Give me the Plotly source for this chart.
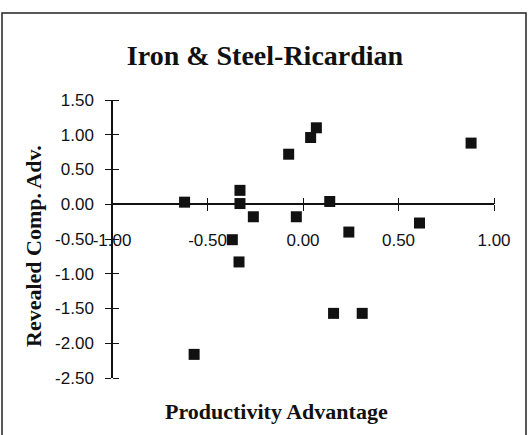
import plotly.graph_objects as go

# ---- data ----
productivity_adv = [-0.62, -0.33, -0.33, -0.26, -0.37, -0.335, -0.075, -0.035,
                    0.04, 0.07, 0.88, 0.14, 0.24, 0.61, -0.57, 0.16, 0.31]
revealed_comp_adv = [0.03, 0.20, 0.01, -0.18, -0.51, -0.83, 0.72, -0.18,
                     0.96, 1.10, 0.88, 0.04, -0.40, -0.27, -2.16, -1.57, -1.57]

x_tick_vals = [-1.0, -0.5, 0.0, 0.5, 1.0]
x_tick_text = ["-1.00", "-0.50", "0.00", "0.50", "1.00"]
y_tick_vals = [1.5, 1.0, 0.5, 0.0, -0.5, -1.0, -1.5, -2.0, -2.5]
y_tick_text = ["1.50", "1.00", "0.50", "0.00", "-0.50", "-1.00", "-1.50", "-2.00", "-2.50"]

x_range = [-1.0, 1.0]
y_range = [-2.5, 1.5]

title_text = "Iron & Steel-Ricardian"
x_title = "Productivity Advantage"
y_title = "Revealed Comp. Adv."

# ---- figure ----
W, H = 529, 435
L, R, T, B = 112, 35, 100, 57
pw, ph = W - L - R, H - T - B

def px_x(p):
    return (p - L) / pw

def px_y(p):
    return (H - B - p) / ph

zero_pos = (0 - y_range[0]) / (y_range[1] - y_range[0])

tick_font = dict(family="Liberation Sans, Arial, sans-serif", size=17, color="#111")
serif_bold = "Liberation Serif, Times New Roman, serif"

fig = go.Figure()
fig.add_trace(go.Scatter(
    x=productivity_adv, y=revealed_comp_adv, mode="markers",
    marker=dict(symbol="square", size=11, color="#111111", line=dict(width=0)),
    xaxis="x", yaxis="y", showlegend=False, hoverinfo="x+y"))
fig.add_trace(go.Scatter(
    x=productivity_adv, y=revealed_comp_adv, mode="markers",
    marker=dict(symbol="square", size=11, opacity=0),
    xaxis="x2", yaxis="y2", showlegend=False, hoverinfo="skip"))

common_x = dict(range=x_range, tickvals=x_tick_vals, showgrid=False, zeroline=False,
                anchor="free", position=zero_pos, showline=True, linecolor="#111",
                linewidth=1.5, tickcolor="#111", tickwidth=1.2, ticklen=6,
                ticks="outside")
common_y = dict(range=y_range, tickvals=y_tick_vals, showgrid=False, zeroline=False,
                anchor="free", position=0, showline=True, linecolor="#111",
                linewidth=1.5, tickcolor="#111", tickwidth=1.2, ticklen=6,
                ticks="outside")

fig.update_layout(
    width=W, height=H,
    margin=dict(l=L, r=R, t=T, b=B, autoexpand=False),
    paper_bgcolor="white", plot_bgcolor="white",
    title=dict(text="<b>" + title_text + "</b>", x=265 / W, xref="container", xanchor="center",
               y=1 - 55 / H, yref="container", yanchor="middle",
               font=dict(family=serif_bold, size=28, color="#111")),
    xaxis=dict(**common_x, side="bottom", ticktext=x_tick_text, tickfont=tick_font,
               ticklabelstandoff=15),
    xaxis2=dict(**common_x, side="top", overlaying="x", showticklabels=False),
    yaxis=dict(**common_y, side="left", ticktext=y_tick_text, tickfont=tick_font,
               ticklabelstandoff=8),
    yaxis2=dict(**common_y, side="right", overlaying="y", showticklabels=False),
    annotations=[
        dict(text="<b>" + x_title + "</b>", xref="paper", yref="paper",
             x=px_x(276), y=px_y(411), showarrow=False, xanchor="center", yanchor="middle",
             font=dict(family=serif_bold, size=22, color="#111")),
        dict(text="<b>" + y_title + "</b>", xref="paper", yref="paper",
             x=px_x(33), y=px_y(246), showarrow=False, textangle=-90,
             xanchor="center", yanchor="middle",
             font=dict(family=serif_bold, size=22, color="#111")),
    ],
    shapes=[
        dict(type="rect", xref="paper", yref="paper",
             x0=px_x(2), x1=px_x(526), y0=px_y(445), y1=px_y(13),
             line=dict(color="#222", width=1.5), fillcolor="rgba(0,0,0,0)", layer="below"),
    ],
)

fig.write_html("out.html", config={"displayModeBar": False},
               post_script="document.body.style.margin='0';document.body.style.overflow='hidden';")
